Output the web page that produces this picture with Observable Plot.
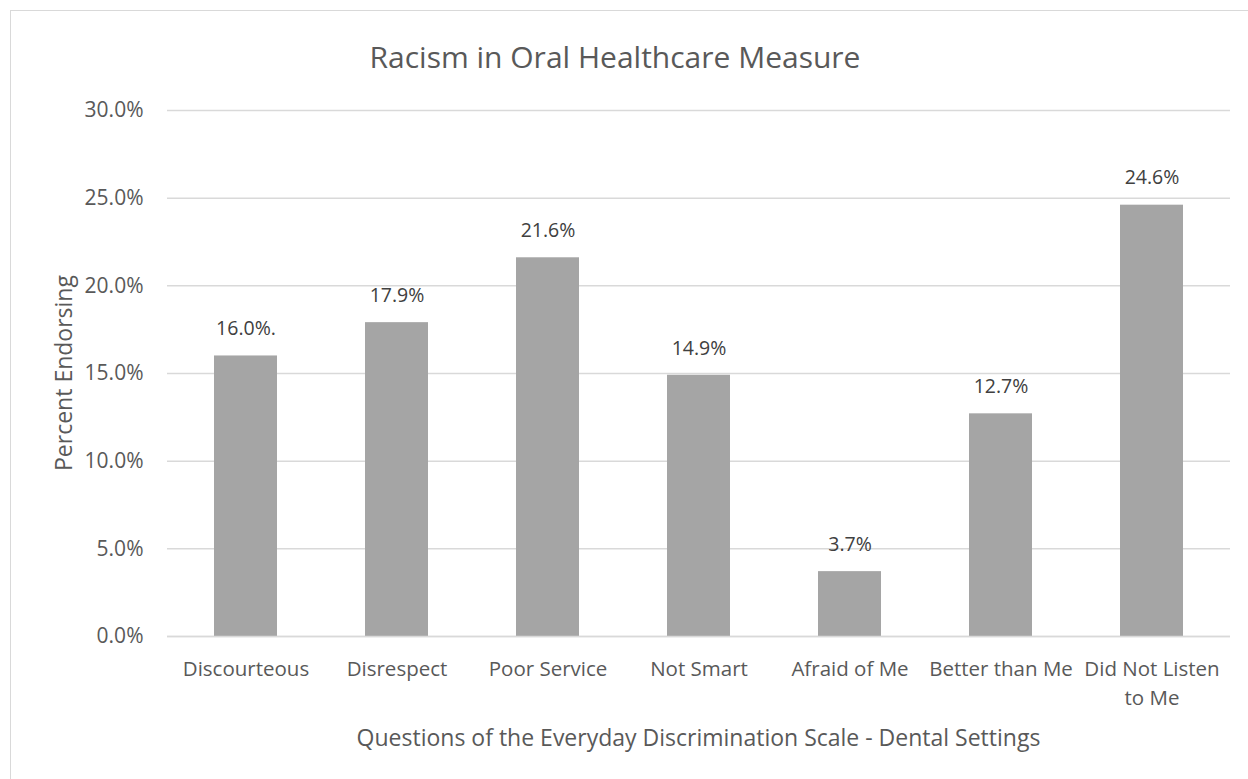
<!DOCTYPE html>
<html>
<head>
<meta charset="utf-8">
<script src="https://cdn.jsdelivr.net/npm/d3@7"></script>
<script src="https://cdn.jsdelivr.net/npm/@observablehq/plot@0.6"></script>
<style>
  body { margin: 0; background: #fff; font-family: "Open Sans", sans-serif; color: #595959; }
  #chart { position: relative; width: 1248px; height: 779px; overflow: hidden; }
  .frame { position: absolute; left: 10px; top: 10px; width: 1260px; height: 800px; border: 1.5px solid #d9d9d9; box-sizing: border-box; }
  .title { position: absolute; left: 0; width: 1230px; top: 37px; text-align: center; font-size: 30px; line-height: 40px; color: #595959; }
  .xtitle { position: absolute; left: 167px; width: 1063px; top: 722px; text-align: center; font-size: 23px; line-height: 30px; color: #595959; }
  .ytitle { position: absolute; left: 63px; top: 373px; transform: translate(-50%, -50%) rotate(-90deg); white-space: nowrap; font-size: 23px; line-height: 30px; color: #595959; }
  #plot { position: absolute; left: 0; top: 0; }
</style>
</head>
<body>
<div id="chart">
  <div class="frame"></div>
  <div class="title">Racism in Oral Healthcare Measure</div>
  <div id="plot"></div>
  <div class="xtitle">Questions of the Everyday Discrimination Scale - Dental Settings</div>
  <div class="ytitle">Percent Endorsing</div>
</div>
<script>
const categories = ["Discourteous", "Disrespect", "Poor Service", "Not Smart", "Afraid of Me", "Better than Me", "Did Not Listen to Me"];
const categoryLabels = ["Discourteous", "Disrespect", "Poor Service", "Not Smart", "Afraid of Me", "Better than Me", "Did Not Listen\nto Me"];
const values = [0.160, 0.179, 0.216, 0.149, 0.037, 0.127, 0.246];
const valueLabels = ["16.0%.", "17.9%", "21.6%", "14.9%", "3.7%", "12.7%", "24.6%"];
const yTicks = [0, 0.05, 0.10, 0.15, 0.20, 0.25, 0.30];

const data = categories.map((c, i) => ({category: c, value: values[i], label: valueLabels[i]}));
const labelOf = new Map(categories.map((c, i) => [c, categoryLabels[i]]));

const chart = Plot.plot({
  width: 1248,
  height: 779,
  marginLeft: 167,
  marginRight: 18,
  marginTop: 110,
  marginBottom: 143,
  style: { fontFamily: "'Open Sans', sans-serif", fontSize: "20px", color: "#595959", background: "transparent" },
  x: { domain: categories, paddingInner: 0.585, paddingOuter: 0.2925, label: null },
  y: { domain: [0, 0.30], label: null },
  marks: [
    Plot.gridY(yTicks, { stroke: "#d9d9d9", strokeOpacity: 1, strokeWidth: 1.5 }),
    Plot.barY(data, { x: "category", y: "value", fill: "#a5a5a5" }),
    Plot.ruleY([0], { stroke: "#d9d9d9", strokeWidth: 1.5 }),
    Plot.text(data, { x: "category", y: "value", text: "label", dy: -27, fill: "#404040", fontSize: 19.5 }),
    Plot.axisY(yTicks, { tickFormat: d3.format(".1%"), tickSize: 0, tickPadding: 24, fill: "#595959", fontSize: 21, label: null }),
    Plot.axisX({ tickFormat: d => labelOf.get(d), tickSize: 0, tickPadding: 19, lineHeight: 1.4, fill: "#595959", fontSize: 20.5, label: null })
  ]
});
document.getElementById("plot").appendChild(chart);
</script>
</body>
</html>
